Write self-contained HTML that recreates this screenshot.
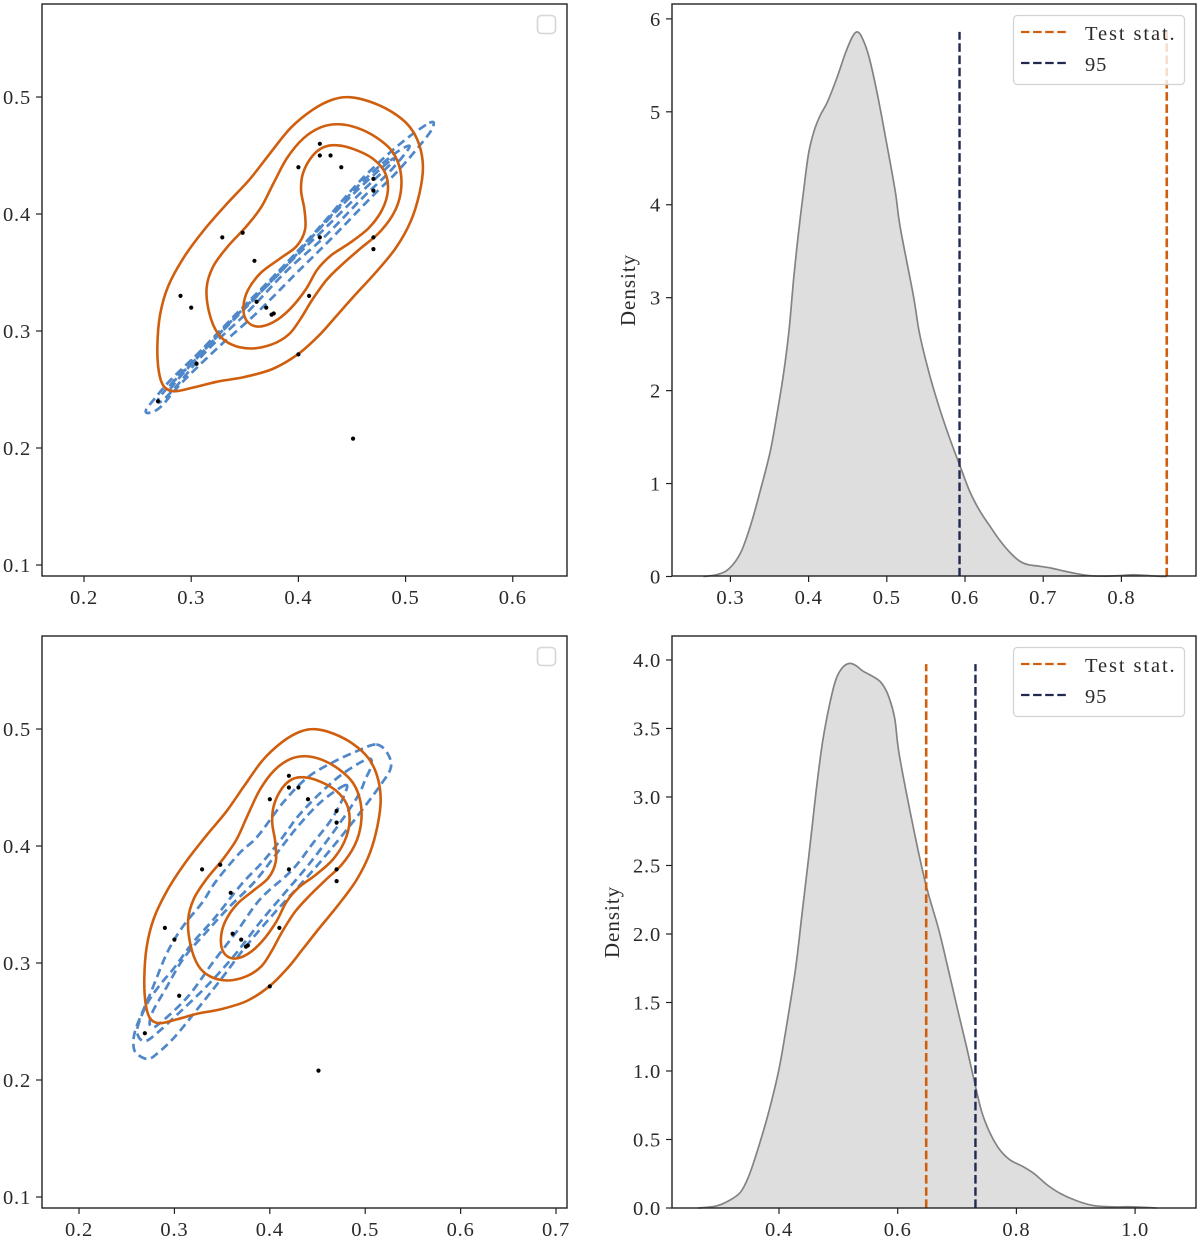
<!DOCTYPE html>
<html lang="en">
<head>
<meta charset="utf-8">
<title>Contour and density panels</title>
<style>
html,body{margin:0;padding:0;background:#fff;width:1200px;height:1239px;overflow:hidden}
svg{display:block}
text{font-family:"Liberation Serif",serif;fill:#2a2a2a}
</style>
</head>
<body>
<svg id="figure" xmlns="http://www.w3.org/2000/svg" width="1200" height="1239" viewBox="0 0 1200 1239"></svg>
<script>
/* ---------- data ---------- */
const scatterPoints=[[0.269,0.24],[0.29,0.33],[0.30,0.32],[0.305,0.272],[0.329,0.38],[0.348,0.384],[0.359,0.36],[0.361,0.325],[0.37,0.32],[0.375,0.314],[0.377,0.315],[0.41,0.33],[0.40,0.28],[0.40,0.44],[0.42,0.46],[0.42,0.45],[0.43,0.45],[0.44,0.44],[0.42,0.38],[0.47,0.43],[0.47,0.42],[0.47,0.38],[0.47,0.37],[0.451,0.208]];

const orangeOuter=[[.4466,.5008],[.4668,.4968],[.4885,.4874],[.5041,.4760],[.5134,.4604],[.5175,.4404],[.5135,.4176],[.5057,.3934],[.4917,.3706],[.4730,.3506],[.4497,.3278],[.4342,.3116],[.4202,.2965],[.4000,.2794],[.3766,.2665],[.3486,.2600],[.3238,.2571],[.3020,.2517],[.2833,.2472],[.2740,.2509],[.2693,.2637],[.2678,.2865],[.2703,.3150],[.2771,.3378],[.2927,.3635],[.3113,.3862],[.3331,.4090],[.3549,.4290],[.3735,.4518],[.3922,.4746],[.4139,.4903],[.4326,.4988]];
const orangeMiddle=[[.4373,.4775],[.4544,.4746],[.4730,.4660],[.4886,.4547],[.4964,.4375],[.4964,.4176],[.4901,.4005],[.4761,.3834],[.4575,.3706],[.4419,.3578],[.4264,.3449],[.4124,.3264],[.4015,.3093],[.3922,.2965],[.3763,.2879],[.3549,.2837],[.3362,.2879],[.3241,.2965],[.3160,.3150],[.3129,.3378],[.3191,.3549],[.3331,.3720],[.3517,.3891],[.3657,.4048],[.3766,.4262],[.3891,.4490],[.4046,.4660],[.4217,.4755]];
const orangeInner=[[.4357,.4595],[.4512,.4561],[.4699,.4484],[.4823,.4361],[.4848,.4205],[.4792,.4034],[.4668,.3877],[.4481,.3749],[.4295,.3649],[.4170,.3535],[.4077,.3350],[.3922,.3179],[.3766,.3064],[.3611,.3022],[.3502,.3079],[.3477,.3207],[.3517,.3350],[.3642,.3506],[.3828,.3620],[.4000,.3720],[.4077,.3862],[.4062,.4034],[.4015,.4205],[.4031,.4347],[.4124,.4504],[.4233,.4581]];

const blueTopOuter=[[.5243,.4797],[.5265,.4752],[.5181,.4638],[.4917,.4353],[.4699,.4162],[.4295,.3777],[.3984,.3498],[.3611,.3150],[.3238,.2851],[.2895,.2546],[.2709,.2338],[.2600,.2295],[.2569,.2318],[.2647,.2409],[.2802,.2580],[.3082,.2822],[.3455,.3164],[.3829,.3520],[.4202,.3891],[.4575,.4290],[.4948,.4604]];
const blueTopMiddle=[[.5026,.4589],[.5035,.4561],[.4855,.4361],[.4606,.4147],[.4233,.3791],[.3891,.3520],[.3518,.3150],[.3144,.2837],[.2833,.2495],[.2709,.2386],[.2684,.2409],[.2771,.2509],[.3051,.2765],[.3424,.3136],[.3797,.3464],[.4171,.3848],[.4544,.4233],[.4855,.4490]];
const blueTopInner=[[.4886,.4484],[.4886,.4447],[.4606,.4205],[.4233,.3863],[.3891,.3563],[.3549,.3236],[.3207,.2922],[.2895,.2609],[.2802,.2500],[.2787,.2523],[.3020,.2765],[.3393,.3122],[.3766,.3464],[.4140,.3820],[.4513,.4176]];

const blueBottomOuter=[[.5124,.4880],[.5239,.4795],[.5280,.4675],[.5186,.4547],[.4872,.4205],[.4547,.3880],[.4316,.3666],[.4054,.3435],[.3740,.3136],[.3499,.2871],[.3216,.2580],[.3006,.2367],[.2828,.2230],[.2723,.2170],[.2587,.2230],[.2566,.2315],[.2587,.2426],[.2660,.2572],[.2776,.2794],[.2922,.3093],[.3079,.3307],[.3300,.3521],[.3425,.3692],[.3687,.3948],[.3865,.4068],[.4138,.4376],[.4389,.4590],[.4662,.4718],[.4913,.4812]];
const blueBottomMiddle=[[.5050,.4761],[.5071,.4692],[.4997,.4564],[.4945,.4453],[.4809,.4282],[.4630,.4077],[.4389,.3820],[.4138,.3581],[.3897,.3350],[.3635,.3068],[.3352,.2811],[.3058,.2580],[.2796,.2384],[.2692,.2324],[.2618,.2367],[.2608,.2452],[.2713,.2657],[.2828,.2794],[.3006,.2965],[.3184,.3170],[.3425,.3384],[.3708,.3683],[.3928,.3863],[.4138,.4077],[.4285,.4248],[.4526,.4453],[.4767,.4624]];
const blueBottomInner=[[.4809,.4538],[.4798,.4461],[.4662,.4239],[.4452,.4025],[.4243,.3794],[.3897,.3555],[.3666,.3281],[.3404,.3008],[.3184,.2751],[.3038,.2623],[.2849,.2486],[.2776,.2444],[.2734,.2478],[.2765,.2580],[.2901,.2768],[.3090,.3042],[.3352,.3281],[.3562,.3470],[.3844,.3692],[.4075,.3940],[.4285,.4162],[.4526,.4376]];

const densityTopX=[.2655,.283,.298,.313,.326,.338,.351,.360,.368,.375,.381,.387,.394,.400,.407,.415,.424,.436,.447,.456,.462,.468,.477,.488,.500,.511,.517,.534,.542,.555,.568,.581,.594,.606,.619,.632,.645,.658,.670,.681,.696,.711,.726,.743,.760,.781,.798,.813,.828,.845,.858];
const densityTopY=[0,.017,.07,.24,.55,.91,1.35,1.77,2.18,2.64,3.23,3.69,4.19,4.57,4.80,4.97,5.09,5.36,5.64,5.82,5.87,5.82,5.62,5.20,4.65,4.11,3.82,2.97,2.62,2.15,1.79,1.47,1.18,.91,.70,.54,.38,.25,.16,.125,.11,.09,.06,.03,.007,.003,.01,.02,.014,.003,0];
const densityBottomX=[.264,.293,.315,.335,.349,.366,.383,.400,.414,.428,.439,.451,.462,.473,.485,.496,.507,.519,.530,.541,.558,.572,.584,.595,.603,.629,.648,.669,.685,.702,.716,.730,.742,.756,.772,.789,.812,.831,.851,.874,.902,.93,.964,.986,1.008,1.036];
const densityBottomY=[0,.01,.05,.11,.22,.45,.70,1.01,1.36,1.75,2.15,2.60,3.03,3.40,3.68,3.87,3.95,3.98,3.96,3.92,3.88,3.84,3.75,3.58,3.34,2.69,2.35,2.03,1.75,1.42,1.18,.90,.69,.54,.42,.35,.30,.25,.17,.105,.05,.015,.007,.01,.007,0];

const topTestStat=0.858;
const topPercentile=0.593;
const topLineHeight=[5.86,5.86];
const bottomTestStat=0.648;
const bottomPercentile=0.731;
const bottomLineHeight=[3.97,3.97];

const contourTicksY=[0.1,0.2,0.3,0.4,0.5];
const contourTopTicksX=[0.2,0.3,0.4,0.5,0.6];
const contourBottomTicksX=[0.2,0.3,0.4,0.5,0.6,0.7];
const densityTopTicksX=[0.3,0.4,0.5,0.6,0.7,0.8];
const densityTopTicksY=[0,1,2,3,4,5,6];
const densityBottomTicksX=[0.4,0.6,0.8,1.0];
const densityBottomTicksY=[0.0,0.5,1.0,1.5,2.0,2.5,3.0,3.5,4.0];

const legendLabels=["Test stat.","95"];

/* ---------- helpers ---------- */
const NS="http://www.w3.org/2000/svg";
const figure=document.getElementById("figure");
const ORANGE="#cf5f0e",BLUE="#4f87c8",NAVY="#20294f";

function make(parent,tag,props){
  const el=document.createElementNS(NS,tag);
  for(const k in props){el.setAttribute(k,props[k]);}
  parent.appendChild(el);
  return el;
}
function linear(d0,d1,r0,r1){
  return v=>r0+(v-d0)*(r1-r0)/(d1-d0);
}
function relaxClosed(p,w){
  const n=p.length;
  return p.map((q,i)=>{
    const a=p[(i-1+n)%n],c=p[(i+1)%n];
    return [q[0]*(1-2*w)+w*(a[0]+c[0]),q[1]*(1-2*w)+w*(a[1]+c[1])];
  });
}
function closedPath(points,sx,sy,w){
  const p=relaxClosed(points.map(q=>[sx(q[0]),sy(q[1])]),w);
  const n=p.length;
  let d="M"+p[0][0].toFixed(2)+" "+p[0][1].toFixed(2);
  for(let i=0;i<n;i++){
    const a=p[(i-1+n)%n],b=p[i],c=p[(i+1)%n],e=p[(i+2)%n];
    const c1=[b[0]+(c[0]-a[0])/6,b[1]+(c[1]-a[1])/6];
    const c2=[c[0]-(e[0]-b[0])/6,c[1]-(e[1]-b[1])/6];
    d+="C"+c1[0].toFixed(2)+" "+c1[1].toFixed(2)+" "+c2[0].toFixed(2)+" "+c2[1].toFixed(2)+" "+c[0].toFixed(2)+" "+c[1].toFixed(2);
  }
  return d+"Z";
}
function openPath(xs,ys,sx,sy){
  const p=xs.map((x,i)=>[sx(x),sy(ys[i])]);
  for(let i=1;i<p.length-1;i++){
    p[i]=[p[i][0],sy(ys[i]*0.8+0.1*(ys[i-1]+ys[i+1]))];
  }
  let d="M"+p[0][0].toFixed(2)+" "+p[0][1].toFixed(2);
  for(let i=0;i<p.length-1;i++){
    const a=p[Math.max(i-1,0)],b=p[i],c=p[i+1],e=p[Math.min(i+2,p.length-1)];
    const c1=[b[0]+(c[0]-a[0])/6,b[1]+(c[1]-a[1])/6];
    const c2=[c[0]-(e[0]-b[0])/6,c[1]-(e[1]-b[1])/6];
    d+="C"+c1[0].toFixed(2)+" "+c1[1].toFixed(2)+" "+c2[0].toFixed(2)+" "+c2[1].toFixed(2)+" "+c[0].toFixed(2)+" "+c[1].toFixed(2);
  }
  return d;
}
function drawFrame(g,box,sx,sy,ticksX,ticksY,digits){
  ticksX.forEach(t=>{
    const x=sx(t);
    const tick=make(g,"line",{x1:x,x2:x,y1:box.b,y2:box.b+6,stroke:"#222","stroke-width":1.2});
    
    
    const label=make(g,"text",{x:x,y:box.b+28,"text-anchor":"middle","font-size":20.5,"letter-spacing":"0.8"});
    label.textContent=t.toFixed(1);
    
    
  });
  ticksY.forEach(t=>{
    const y=sy(t);
    const tick=make(g,"line",{x1:box.l-6,x2:box.l,y1:y,y2:y,stroke:"#222","stroke-width":1.2});
    
    
    const label=make(g,"text",{x:box.l-11,y:y+7,"text-anchor":"end","font-size":20.5,"letter-spacing":"0.8"});
    label.textContent=t.toFixed(digits);
    
    
  });
  const frame=make(g,"rect",{x:box.l,y:box.t,width:box.r-box.l,height:box.b-box.t,fill:"none",stroke:"#222","stroke-width":1.4});
  
  
}
function drawContourPanel(name,box,sx,sy,blueSets,ticksX){
  const g=make(figure,"g",{});
  
  
  blueSets.forEach(set=>{
    const c=make(g,"path",{d:closedPath(set,sx,sy,0.08),fill:"none",stroke:BLUE,"stroke-width":2.7,"stroke-dasharray":"8.5 4.8"});
    
    
  });
  [orangeOuter,orangeMiddle,orangeInner].forEach(set=>{
    const c=make(g,"path",{d:closedPath(set,sx,sy,0.16),fill:"none",stroke:ORANGE,"stroke-width":2.6});
    
    
  });
  scatterPoints.forEach(pt=>{
    const c=make(g,"circle",{cx:sx(pt[0]),cy:sy(pt[1]),r:2.1,fill:"#000"});
    
    
  });
  drawFrame(g,box,sx,sy,ticksX,contourTicksY,1);
  const legend=make(g,"rect",{x:box.r-29.5,y:box.t+11.5,width:18,height:18,rx:4,fill:"#fff",stroke:"#d6d6d6","stroke-width":1.6});
  
  
}
function drawDensityPanel(name,box,sx,sy,xs,ys,testStat,percentile,heights,ticksX,ticksY,digits,labelX){
  const g=make(figure,"g",{});
  
  
  const curve=openPath(xs,ys,sx,sy);
  const fill=make(g,"path",{d:curve+"Z",fill:"#dedede",stroke:"none"});
  
  
  const line=make(g,"path",{d:curve,fill:"none",stroke:"#838383","stroke-width":1.7});
  
  
  const testLine=make(g,"line",{x1:sx(testStat),x2:sx(testStat),y1:sy(0),y2:sy(heights[0]),stroke:ORANGE,"stroke-width":2.6,"stroke-dasharray":"8.6 3.6"});
  
  
  const pctLine=make(g,"line",{x1:sx(percentile),x2:sx(percentile),y1:sy(0),y2:sy(heights[1]),stroke:NAVY,"stroke-width":2.4,"stroke-dasharray":"8.6 3.6"});
  
  
  drawFrame(g,box,sx,sy,ticksX,ticksY,digits);
  const title=make(g,"text",{x:labelX,y:(box.t+box.b)/2,"text-anchor":"middle","font-size":21,"letter-spacing":"1",transform:"rotate(-90 "+labelX+" "+((box.t+box.b)/2)+")"});
  title.textContent="Density";
  
  
  const lg=make(g,"g",{});
  
  
  const bg=make(lg,"rect",{x:box.l+341.5,y:box.t+11.5,width:171,height:69,rx:4,fill:"rgba(255,255,255,.8)",stroke:"#d2d2d2","stroke-width":1.2});
  
  
  [ORANGE,NAVY].forEach((col,i)=>{
    const yy=box.t+28+i*31;
    const sw=make(lg,"line",{x1:box.l+349,x2:box.l+396,y1:yy,y2:yy,stroke:col,"stroke-width":2.3,"stroke-dasharray":"8.5 3.6"});
    
    
    const tx=make(lg,"text",{x:box.l+413,y:yy+8,"font-size":20.5,"letter-spacing":i===0?"1.9":"0.9"});
    tx.textContent=legendLabels[i];
    
    
  });
}

/* ---------- panels ---------- */
const boxA={l:42,r:567,t:4,b:576};
const boxB={l:672,r:1196,t:4,b:576};
const boxC={l:42,r:567,t:636,b:1208};
const boxD={l:672,r:1196,t:636,b:1208};

drawContourPanel("contour-panel-top",boxA,
  linear(0.1608,0.6506,boxA.l,boxA.r),linear(0.0906,0.5795,boxA.b,boxA.t),
  [blueTopOuter,blueTopMiddle,blueTopInner],contourTopTicksX);
drawDensityPanel("density-panel-top",boxB,
  linear(0.2253,0.8954,boxB.l,boxB.r),linear(0,6.16,boxB.b+0.5,boxB.t),
  densityTopX,densityTopY,topTestStat,topPercentile,topLineHeight,
  densityTopTicksX,densityTopTicksY,0,635);
drawContourPanel("contour-panel-bottom",boxC,
  linear(0.1612,0.7115,boxC.l,boxC.r),linear(0.0906,0.5795,boxC.b,boxC.t),
  [blueBottomOuter,blueBottomMiddle,blueBottomInner],contourBottomTicksX);
drawDensityPanel("density-panel-bottom",boxD,
  linear(0.2197,1.1026,boxD.l,boxD.r),linear(0,4.175,boxD.b,boxD.t),
  densityBottomX,densityBottomY,bottomTestStat,bottomPercentile,bottomLineHeight,
  densityBottomTicksX,densityBottomTicksY,1,619);
</script>
</body>
</html>
